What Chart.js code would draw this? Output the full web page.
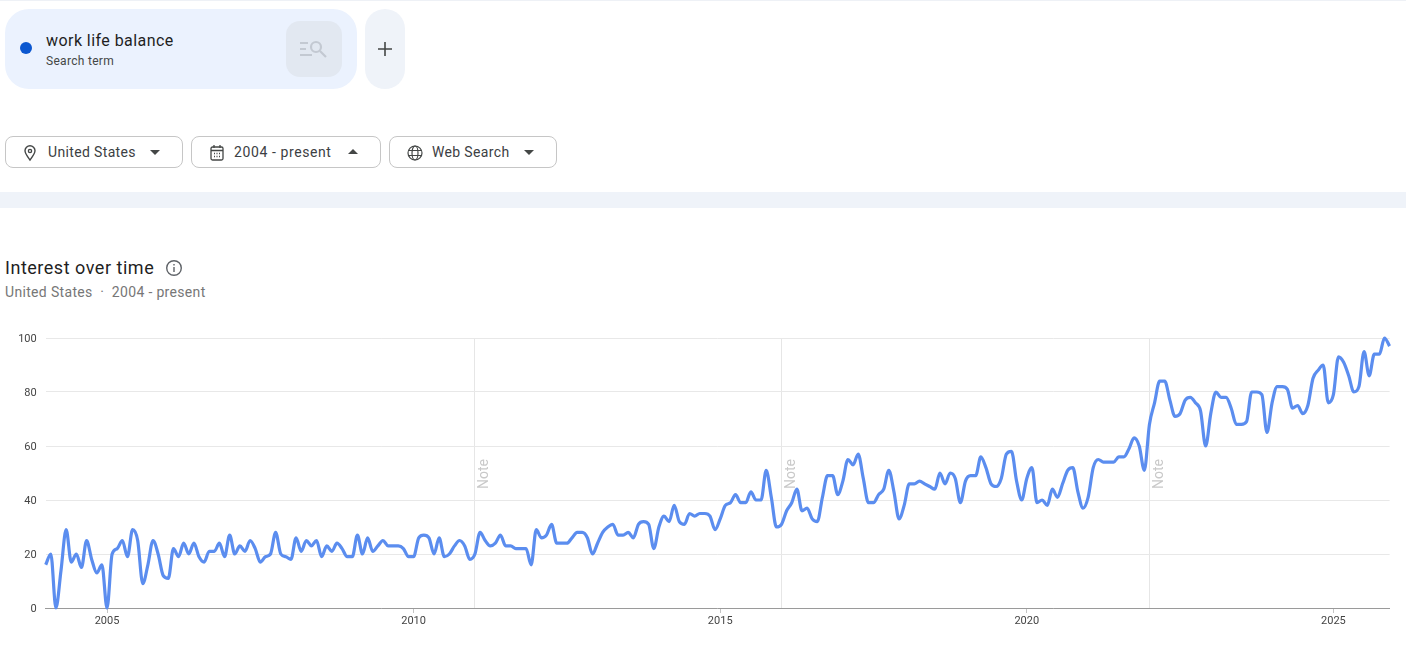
<!DOCTYPE html>
<html>
<head>
<meta charset="utf-8">
<script src="https://cdn.jsdelivr.net/npm/chart.js@4"></script>
<style>
html,body{margin:0;padding:0;background:#fff;width:1406px;height:653px;overflow:hidden;font-family:Roboto,sans-serif;color:#202124}
.abs{position:absolute;box-sizing:border-box}
.btn{top:136px;height:32px;border:1px solid #c6c6c6;border-radius:8px;background:#fff;font-size:14px;line-height:30px;color:#3c4043;letter-spacing:.35px}
.btn span{position:absolute;top:0;white-space:nowrap}
.btn svg{position:absolute;top:7px}
</style>
</head>
<body>
<div class="abs" style="left:0;top:0;width:1406px;height:1px;background:#eef1f6"></div>
<div class="abs" style="left:5px;top:9px;width:352px;height:80px;border-radius:24px;background:#ebf2fe"></div>
<div class="abs" style="left:20px;top:42px;width:12px;height:12px;border-radius:50%;background:#0b57d0"></div>
<div class="abs" style="left:46px;top:31px;font-size:16px;line-height:20px;color:#1f1f1f;white-space:nowrap;letter-spacing:.44px">work life balance</div>
<div class="abs" style="left:46px;top:54px;font-size:12px;line-height:15px;color:#444746;white-space:nowrap;letter-spacing:.3px">Search term</div>
<div class="abs" style="left:286px;top:21px;width:56px;height:56px;border-radius:14px;background:#e2e8f1"></div>
<svg class="abs" style="left:298px;top:38px" width="32" height="22" viewBox="0 0 32 22" fill="none" stroke="#c3c9d2" stroke-width="2.2"><path d="M2 5h8M2 11h6M2 17h12"/><circle cx="18" cy="9" r="5"/><path d="M22 13l6 6"/></svg>
<div class="abs" style="left:365px;top:9px;width:40px;height:80px;border-radius:20px;background:#eff3f9"></div>
<svg class="abs" style="left:377px;top:41px" width="16" height="16" fill="none" stroke="#444746" stroke-width="1.6"><path d="M8 1v14M1 8h14"/></svg>

<div class="abs btn" style="left:5px;width:178px">
<svg style="left:16px" width="16" height="18" viewBox="0 0 16 18" fill="none" stroke="#444746" stroke-width="1.4"><path d="M8 16C5 12 3 9.5 3 6.8a5 5 0 0 1 10 0C13 9.5 11 12 8 16z"/><circle cx="8" cy="7" r="1.6"/></svg>
<span style="left:42px">United States</span>
<svg style="left:143px;top:12px" width="12" height="7"><path d="M1 1h10L6 6z" fill="#444746"/></svg>
</div>
<div class="abs btn" style="left:191px;width:190px">
<svg style="left:17px" width="16" height="18" viewBox="0 0 16 18" fill="none" stroke="#444746" stroke-width="1.3"><rect x="2" y="3" width="12" height="13" rx="1.5"/><path d="M2 6.5h12M5 1v3M11 1v3M5 9.5h1M7.5 9.5h1M10 9.5h1M5 12.5h1M7.5 12.5h1M10 12.5h1"/></svg>
<span style="left:42px;letter-spacing:.6px">2004 - present</span>
<svg style="left:155px;top:11px" width="12" height="7"><path d="M1 6h10L6 1z" fill="#444746"/></svg>
</div>
<div class="abs btn" style="left:389px;width:168px">
<svg style="left:16px" width="18" height="18" viewBox="0 0 18 18" fill="none" stroke="#444746" stroke-width="1.2"><circle cx="9" cy="9" r="7"/><ellipse cx="9" cy="9" rx="3" ry="7"/><path d="M2.5 6.5h13M2.5 11.5h13"/></svg>
<span style="left:42px">Web Search</span>
<svg style="left:133px;top:12px" width="12" height="7"><path d="M1 1h10L6 6z" fill="#444746"/></svg>
</div>

<div class="abs" style="left:0;top:192px;width:1406px;height:16px;background:#eff3f9"></div>
<div class="abs" style="left:5px;top:257px;font-size:18px;line-height:22px;color:#1f1f1f;white-space:nowrap;letter-spacing:.52px">Interest over time</div>
<svg class="abs" style="left:165px;top:259px" width="18" height="18" fill="none" stroke="#5f6368" stroke-width="1.4"><circle cx="9" cy="9" r="7.3"/><path d="M9 8v5M9 5v1.6"/></svg>
<div class="abs" style="left:5px;top:284px;font-size:14px;line-height:17px;color:#777;white-space:nowrap;letter-spacing:.33px">United States &nbsp;&middot;&nbsp; 2004 - present</div>

<div class="abs" style="left:0;top:320px;width:1406px;height:333px"><canvas id="c"></canvas></div>

<script>
const startYear = 2004;
const y2004 = [16,20,0,14,29,17,20,15,25,18,13,16];
const y2005 = [0,20,22,25,19,29,25,9,16,25,20,12];
const y2006 = [11,22,19,24,20,24,19,17,21,21,24,19];
const y2007 = [27,20,23,21,25,22,17,19,20,28,20,19];
const y2008 = [18,26,21,25,23,25,19,23,21,24,22,19];
const y2009 = [19,27,20,26,21,23,25,23,23,23,22,19];
const y2010 = [19,26,27,26,20,26,19,20,23,25,23,18];
const y2011 = [20,28,25,23,24,27,23,23,22,22,22,16];
const y2012 = [29,26,27,31,24,24,24,26,28,28,26,20];
const y2013 = [24,28,30,31,27,27,28,26,31,32,31,22];
const y2014 = [30,34,32,38,32,31,35,34,35,35,34,29];
const y2015 = [33,38,39,42,39,39,43,40,40,51,41,30];
const y2016 = [31,36,39,44,36,37,33,32,41,49,49,42];
const y2017 = [47,55,53,57,48,39,39,42,44,51,43,33];
const y2018 = [38,46,46,47,46,45,44,50,46,50,48,39];
const y2019 = [47,49,49,56,52,46,45,48,57,58,47,40];
const y2020 = [48,52,39,40,38,44,41,46,51,52,43,37];
const y2021 = [41,52,55,54,54,54,56,56,59,63,60,51];
const y2022 = [68,76,84,84,77,71,72,77,78,76,73,60];
const y2023 = [72,80,78,78,74,68,68,69,80,80,79,65];
const y2024 = [76,82,82,81,74,75,72,75,85,88,90,76];
const y2025 = [79,93,91,86,80,82,95,86,94,94,100,97];
const interest = [y2004,y2005,y2006,y2007,y2008,y2009,y2010,y2011,y2012,y2013,y2014,y2015,y2016,y2017,y2018,y2019,y2020,y2021,y2022,y2023,y2024,y2025].flat();
const months = interest.map((_, i) => (startYear + Math.floor(i / 12)) + '-' + String(i % 12 + 1).padStart(2, '0'));
const yearTicks = ['2005-01','2010-01','2015-01','2020-01','2025-01'];
const noteMonths = ['2011-01','2016-01','2022-01'];
const yTicks = [0,20,40,60,80,100];
const noteLabel = 'Note';
const seriesName = 'work life balance';

const noteText = {
  id: 'noteText',
  afterDatasetsDraw(chart) {
    const {ctx, scales} = chart;
    ctx.save();
    ctx.fillStyle = '#c9c9c9';
    ctx.font = '14px Roboto, sans-serif';
    ctx.textAlign = 'center';
    ctx.textBaseline = 'middle';
    noteMonths.forEach(m => {
      ctx.save();
      ctx.translate(scales.x.getPixelForValue(months.indexOf(m)) + 10, scales.y.getPixelForValue(49.6));
      ctx.rotate(-Math.PI / 2);
      ctx.fillText(noteLabel, 0, 0);
      ctx.restore();
    });
    ctx.restore();
  }
};

new Chart(document.getElementById('c'), {
  type: 'line',
  data: {
    labels: months,
    datasets: [{
      label: seriesName,
      data: interest,
      borderColor: '#5b8def',
      borderWidth: 3.2,
      pointRadius: 0,
      cubicInterpolationMode: 'monotone',
      clip: false
    }]
  },
  options: {
    responsive: true,
    maintainAspectRatio: false,
    animation: false,
    events: [],
    layout: {padding: {top: 18, right: 16.4, left: 0, bottom: 0}},
    plugins: {legend: {display: false}, tooltip: {enabled: false}},
    scales: {
      x: {
        type: 'category',
        offset: false,
        afterFit(s) { s.height = 45; },
        border: {display: true, color: '#9a9a9a', width: 1},
        grid: {
          color: c => noteMonths.includes(months[c.index]) ? '#e6e6e6' : 'rgba(0,0,0,0)',
          tickColor: c => yearTicks.includes(months[c.index]) ? '#c4c4c4' : 'rgba(0,0,0,0)',
          tickLength: 5,
          lineWidth: 1
        },
        ticks: {
          autoSkip: false,
          maxRotation: 0,
          minRotation: 0,
          padding: 2,
          color: '#444',
          font: {family: 'Roboto, sans-serif', size: 11},
          callback(v) { const m = months[v]; return yearTicks.includes(m) ? m.slice(0, 4) : ''; }
        }
      },
      y: {
        min: 0,
        max: 100,
        afterFit(s) { s.width = 45.7; },
        afterBuildTicks(s) { s.ticks = yTicks.map(v => ({value: v})); },
        border: {display: false},
        grid: {color: '#e8e8e8', drawTicks: false, lineWidth: 1},
        ticks: {padding: 9, labelOffset: 1, color: '#444', font: {family: 'Roboto, sans-serif', size: 11}}
      }
    }
  },
  plugins: [noteText]
});
</script>
</body>
</html>
